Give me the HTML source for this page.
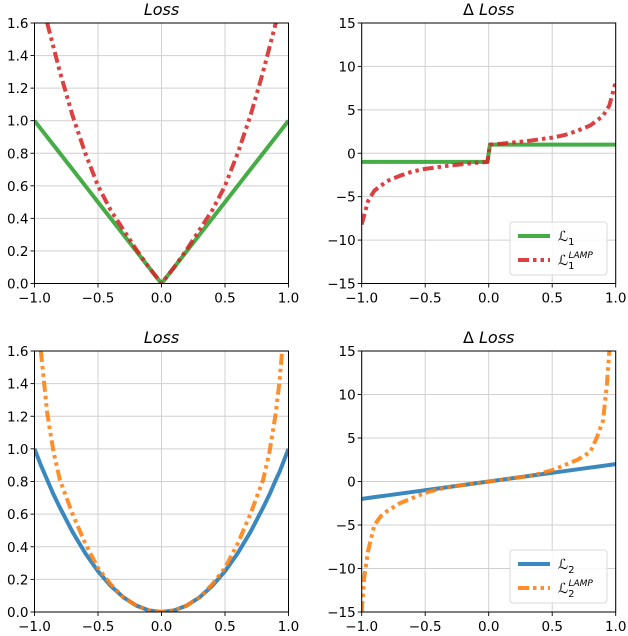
<!DOCTYPE html>
<html><head><meta charset="utf-8">
<style>
body{margin:0;background:#fff;}
svg{display:block;font-family:"DejaVu Sans","Liberation Sans",sans-serif;}
</style></head>
<body>
<svg id="fig" width="628" height="636" viewBox="0 0 628 636"></svg>
<script>
const xs = [-1,-0.95,-0.9,-0.8,-0.7,-0.6,-0.5,-0.4,-0.3,-0.2,-0.1,-0.01,0,0.01,0.1,0.2,0.3,0.4,0.5,0.6,0.7,0.8,0.9,0.95,1];
const l1Loss = [1,0.95,0.9,0.8,0.7,0.6,0.5,0.4,0.3,0.2,0.1,0.01,0,0.01,0.1,0.2,0.3,0.4,0.5,0.6,0.7,0.8,0.9,0.95,1];
const l1LampLoss = [null,null,1.6,1.3,1.03,0.8,0.6,0.45,0.33,0.21,0.1,0.01,0,0.01,0.1,0.21,0.33,0.45,0.6,0.8,1.03,1.3,1.6,null,null];
const l1Grad = [-1,-1,-1,-1,-1,-1,-1,-1,-1,-1,-1,-1,0,1,1,1,1,1,1,1,1,1,1,1,1];
const l1LampGrad = [-8.2,-5.5,-4.3,-3.2,-2.6,-2.1,-1.8,-1.6,-1.4,-1.25,-1.1,-1.0,0,1.0,1.1,1.25,1.4,1.6,1.8,2.1,2.6,3.2,4.3,5.5,8.2];
const xs2 = [-1,-0.98,-0.95,-0.9,-0.85,-0.8,-0.7,-0.6,-0.5,-0.4,-0.3,-0.2,-0.1,0,0.1,0.2,0.3,0.4,0.5,0.6,0.7,0.8,0.85,0.9,0.93,0.95,0.97,1];
const l2Loss = [1,0.96,0.9,0.81,0.72,0.64,0.49,0.36,0.25,0.16,0.09,0.04,0.01,0,0.01,0.04,0.09,0.16,0.25,0.36,0.49,0.64,0.72,0.81,0.86,0.9,0.94,1];
const l2LampLoss = [null,null,1.6,1.22,0.98,0.81,0.6,0.42,0.27,0.17,0.09,0.04,0.01,0,0.01,0.04,0.09,0.17,0.27,0.42,0.6,0.81,0.98,1.22,1.42,1.6,null,null];
const l2Grad = [-2,-1.96,-1.9,-1.8,-1.7,-1.6,-1.4,-1.2,-1,-0.8,-0.6,-0.4,-0.2,0,0.2,0.4,0.6,0.8,1,1.2,1.4,1.6,1.7,1.8,1.86,1.9,1.94,2];
const l2LampGrad = [-15,-11,-8,-5,-4,-3.4,-2.5,-1.9,-1.3,-0.9,-0.6,-0.4,-0.2,0,0.2,0.4,0.6,0.9,1.3,1.9,2.5,3.4,5,7,11,15,null,null];
const xTicks = [-1,-0.5,0,0.5,1];
const xTickLabels = ["\u22121.0","\u22120.5","0.0","0.5","1.0"];
const lossTicks = [0,0.2,0.4,0.6,0.8,1.0,1.2,1.4,1.6];
const lossTickLabels = ["0.0","0.2","0.4","0.6","0.8","1.0","1.2","1.4","1.6"];
const gradTicks = [-15,-10,-5,0,5,10,15];
const gradTickLabels = ["\u221215","\u221210","\u22125","0","5","10","15"];

const NS="http://www.w3.org/2000/svg";
const svg=document.getElementById('fig');
function mk(tag,attrs,parent){const e=document.createElementNS(NS,tag);for(const k in attrs)e.setAttribute(k,attrs[k]);(parent||svg).appendChild(e);return e;}
const C={green:"#2ca02c",red:"#d62728",blue:"#1f77b4",orange:"#ff7f0e"};
const DASH="11 4 3.5 4 3.5 4";

function panel(o){
  const g=mk('g',{});
  
  
  const sx=v=>o.x0+(v+1)/2*(o.x1-o.x0);
  const sy=v=>o.y1-(v-o.ymin)/(o.ymax-o.ymin)*(o.y1-o.y0);
  const clip='c'+o.name;
  const cp=mk('clipPath',{id:clip},g);mk('rect',{x:o.x0,y:o.y0,width:o.x1-o.x0,height:o.y1-o.y0},cp);
  xTicks.forEach((t,i)=>{
    const gl=mk('line',{x1:sx(t),x2:sx(t),y1:o.y0,y2:o.y1,stroke:"#d0d0d0","stroke-width":1},g);
    
    mk('line',{x1:sx(t),x2:sx(t),y1:o.y1,y2:o.y1+4,stroke:"#000","stroke-width":0.9},g);
    const tx=mk('text',{x:sx(t),y:o.y1+19,"text-anchor":"middle","font-size":13.5,fill:"#000"},g);
    tx.textContent=xTickLabels[i];
    
  });
  o.yt.forEach((t,i)=>{
    const gl=mk('line',{x1:o.x0,x2:o.x1,y1:sy(t),y2:sy(t),stroke:"#d0d0d0","stroke-width":1},g);
    
    mk('line',{x1:o.x0-4,x2:o.x0,y1:sy(t),y2:sy(t),stroke:"#000","stroke-width":0.9},g);
    const tx=mk('text',{x:o.x0-6,y:sy(t)+5,"text-anchor":"end","font-size":13.5,fill:"#000"},g);
    tx.textContent=o.ytl[i];
    
  });
  o.series.forEach(s=>{
    let d="",pen=false;
    s.xs.forEach((x,i)=>{const v=s.ys[i];if(v===null||v===undefined){pen=false;return;}d+=(pen?"L":"M")+sx(x).toFixed(2)+","+sy(v).toFixed(2);pen=true;});
    const p=mk('path',{d:d,fill:"none",stroke:s.color,"stroke-width":4,"stroke-opacity":0.88,"clip-path":"url(#"+clip+")","stroke-linejoin":"round"},g);
    if(s.dash)p.setAttribute('stroke-dasharray',DASH);
    
  });
  mk('rect',{x:o.x0,y:o.y0,width:o.x1-o.x0,height:o.y1-o.y0,fill:"none",stroke:"#000","stroke-width":1},g);
  const ti=mk('text',{x:(o.x0+o.x1)/2,y:o.y0-8,"text-anchor":"middle","font-size":16,fill:"#000"},g);
  ti.innerHTML=o.title;
  
  if(o.legend){
    const L=o.legend;
    const lg=mk('g',{},g);
    
    mk('rect',{x:L.x,y:L.y,width:97,height:53,rx:3,fill:"#fff","fill-opacity":0.85,stroke:"#d8d8d8"},lg);
    L.items.forEach((it,i)=>{
      const yy=L.y+14+i*24;
      const ln=mk('line',{x1:L.x+8,x2:L.x+40,y1:yy,y2:yy,stroke:it.color,"stroke-width":4,"stroke-opacity":0.88},lg);
      if(it.dash)ln.setAttribute('stroke-dasharray',DASH);
      const t=mk('text',{x:L.x+48,y:yy+5,"font-size":14,fill:"#000"},lg);
      t.innerHTML=it.label;
      
    });
  }
}
const titleLoss='<tspan font-style="italic">Loss</tspan>';
const titleGrad='\u0394 <tspan font-style="italic">Loss</tspan>';
panel({name:'l1-loss-panel',x0:34.5,x1:288.5,y0:23,y1:283.5,ymin:0,ymax:1.6,yt:lossTicks,ytl:lossTickLabels,title:titleLoss,
 series:[{name:'l1-loss-line',xs:xs,ys:l1Loss,color:C.green},{name:'l1-lamp-loss-line',xs:xs,ys:l1LampLoss,color:C.red,dash:true}]});
panel({name:'l1-grad-panel',x0:361.7,x1:615.7,y0:23,y1:283.5,ymin:-15,ymax:15,yt:gradTicks,ytl:gradTickLabels,title:titleGrad,
 series:[{name:'l1-grad-line',xs:xs,ys:l1Grad,color:C.green},{name:'l1-lamp-grad-line',xs:xs,ys:l1LampGrad,color:C.red,dash:true}],
 legend:{x:510,y:222,items:[{color:C.green,label:'\u2112<tspan font-size="10" dy="4">1</tspan>'},{color:C.red,dash:true,label:'\u2112<tspan font-size="10" dy="4">1</tspan><tspan font-size="9" font-style="italic" dx="-6" dy="-11">LAMP</tspan>'}]}});
panel({name:'l2-loss-panel',x0:34.5,x1:288.5,y0:351,y1:612,ymin:0,ymax:1.6,yt:lossTicks,ytl:lossTickLabels,title:titleLoss,
 series:[{name:'l2-loss-line',xs:xs2,ys:l2Loss,color:C.blue},{name:'l2-lamp-loss-line',xs:xs2,ys:l2LampLoss,color:C.orange,dash:true}]});
panel({name:'l2-grad-panel',x0:361.7,x1:615.7,y0:351,y1:612,ymin:-15,ymax:15,yt:gradTicks,ytl:gradTickLabels,title:titleGrad,
 series:[{name:'l2-grad-line',xs:xs2,ys:l2Grad,color:C.blue},{name:'l2-lamp-grad-line',xs:xs2,ys:l2LampGrad,color:C.orange,dash:true}],
 legend:{x:510,y:550,items:[{color:C.blue,label:'\u2112<tspan font-size="10" dy="4">2</tspan>'},{color:C.orange,dash:true,label:'\u2112<tspan font-size="10" dy="4">2</tspan><tspan font-size="9" font-style="italic" dx="-6" dy="-11">LAMP</tspan>'}]}});
</script>
</body></html>
